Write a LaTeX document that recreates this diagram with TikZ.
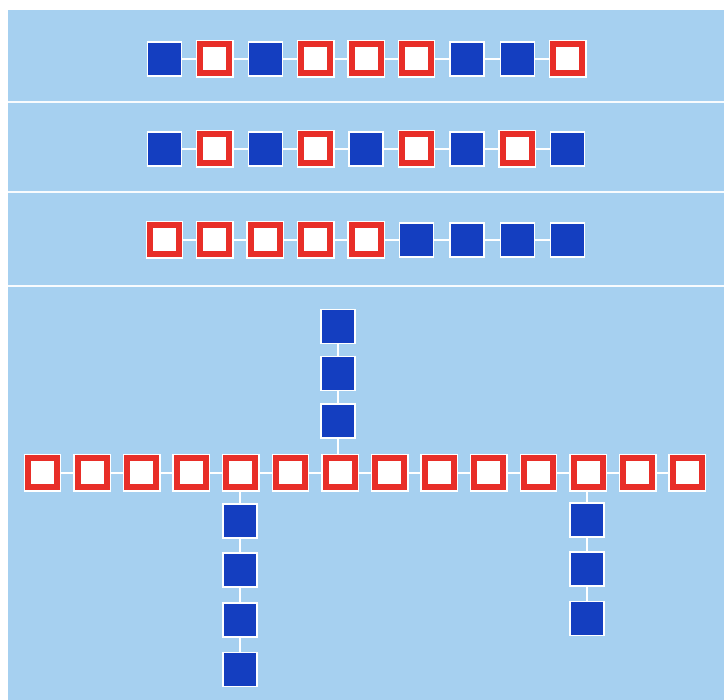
\documentclass[tikz,border=0pt]{standalone}
\pgfdeclarelayer{bg}
\pgfdeclarelayer{mid}
\pgfsetlayers{bg,mid,main}
\definecolor{skyblue}{RGB}{166,208,240}
\definecolor{sqblue}{RGB}{20,62,192}
\definecolor{sqred}{RGB}{232,46,40}
\tikzset{
  bsq/.style={rectangle, inner sep=0pt, outer sep=0pt, minimum size=34pt, fill=sqblue, draw=white, line width=1.4pt},
  rsq/.style={rectangle, inner sep=0pt, outer sep=0pt, minimum size=29pt, fill=white, draw=sqred, line width=6pt,
    preaction={draw=white, line width=8.8pt}},
  link/.style={draw=white, line width=1.3pt},
  divider/.style={draw=white!92!skyblue, line width=2pt}
}
\begin{document}
\begin{tikzpicture}[x=1pt,y=-1pt]
\useasboundingbox (0,0) rectangle (724,700);
\begin{pgfonlayer}{bg}
  \fill[white] (0,0) rectangle (724,700);
  \fill[skyblue] (8,10) rectangle (724,700);
  \draw[divider] (8,102) -- (724,102);
  \draw[divider] (8,192) -- (724,192);
  \draw[divider] (8,286) -- (724,286);
\end{pgfonlayer}
% top three rows
\foreach \r/\y/\pat in {1/59/{b,r,b,r,r,r,b,b,r}, 2/149/{b,r,b,r,b,r,b,r,b}, 3/240/{r,r,r,r,r,b,b,b,b}}{
  \foreach \t [count=\i from 0] in \pat {
    \node[\t sq] (s\r-\i) at ({164.5+50.4*\i},\y) {};
  }
  \begin{pgfonlayer}{mid}
    \foreach \i [evaluate=\i as \j using int(\i+1)] in {0,...,7}{
      \draw[link] (s\r-\i.center) -- (s\r-\j.center);
    }
  \end{pgfonlayer}
}
% long row
\foreach \i in {0,...,13}{
  \node[rsq] (L\i) at ({42.5+49.6*\i},473) {};
}
% upper column
\node[bsq] (U1) at (338,326.5) {};
\node[bsq] (U2) at (338,373.5) {};
\node[bsq] (U3) at (338,421) {};
% lower left column
\node[bsq] (A1) at (240,521) {};
\node[bsq] (A2) at (240,570) {};
\node[bsq] (A3) at (240,620) {};
\node[bsq] (A4) at (240,669.5) {};
% lower right column
\node[bsq] (B1) at (587,520) {};
\node[bsq] (B2) at (587,569) {};
\node[bsq] (B3) at (587,618.5) {};
\begin{pgfonlayer}{mid}
  \foreach \i [evaluate=\i as \j using int(\i+1)] in {0,...,12}{
    \draw[link] (L\i.center) -- (L\j.center);
  }
  \draw[link] (U1.center) -- (U2.center);
  \draw[link] (U2.center) -- (U3.center);
  \draw[link] (U3.center) -- (U3.center |- L6.center);
  \draw[link] (A1.center |- L4.center) -- (A1.center);
  \draw[link] (A1.center) -- (A2.center);
  \draw[link] (A2.center) -- (A3.center);
  \draw[link] (A3.center) -- (A4.center);
  \draw[link] (B1.center |- L11.center) -- (B1.center);
  \draw[link] (B1.center) -- (B2.center);
  \draw[link] (B2.center) -- (B3.center);
\end{pgfonlayer}
\end{tikzpicture}
\end{document}
